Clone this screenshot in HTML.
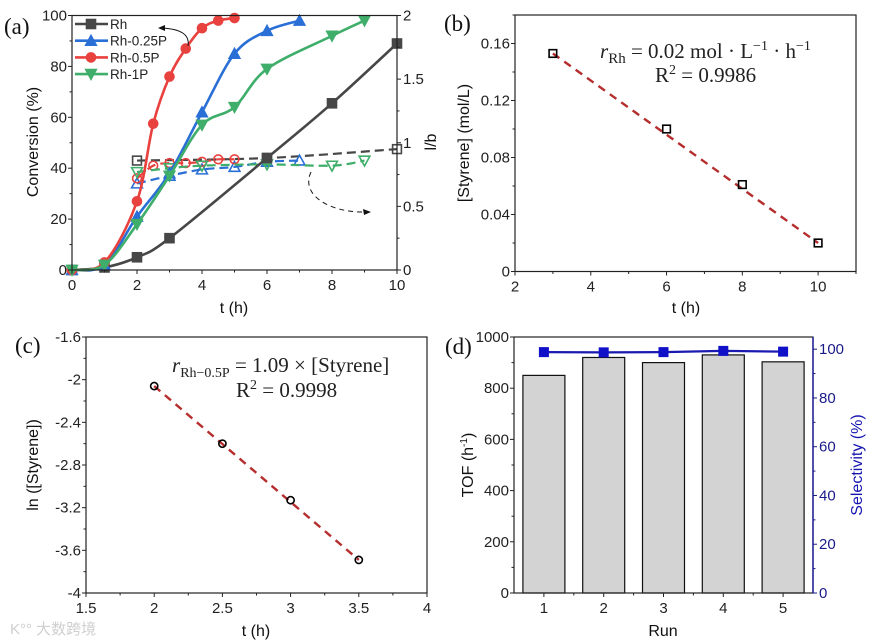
<!DOCTYPE html>
<html><head><meta charset="utf-8"><style>
body{margin:0;background:#fff;}
svg{display:block;font-family:"Liberation Sans",sans-serif;}
.s{font-family:"Liberation Serif",serif;}
</style></head><body>
<svg id="c" width="880" height="644" viewBox="0 0 880 644"></svg>
<script>
// ---- Panel (a) data ----
const aRhT=[0,1,2,3,6,8,10], aRhC=[0,1,5,12.5,44,65.5,89];
const a25T=[0,1,2,3,4,5,6,7], a25C=[0,2,21,38,62,85,94,98];
const a05T=[0,1,2,2.5,3,3.5,4,4.5,5], a05C=[0,3,27,57.5,76,87,95,98,99];
const a1T=[0,1,2,3,4,5,6,8,9], a1C=[0,2,18,37,57,64,79,92,98];
const lbRhT=[2,6,10], lbRh=[0.86,0.88,0.95];
const lb25T=[2,3,4,5,6,7], lb25=[0.68,0.74,0.79,0.81,0.85,0.86];
const lb05T=[2,2.5,3,3.5,4,4.5,5], lb05=[0.72,0.82,0.84,0.84,0.85,0.87,0.87];
const lb1T=[2,3,4,6,8,9], lb1=[0.77,0.8,0.82,0.83,0.82,0.86];
// ---- Panel (b) ----
const bT=[3,6,8,10], bS=[0.153,0.1,0.061,0.02];
// ---- Panel (c) ----
const cT=[2,2.5,3,3.5], cL=[-2.06,-2.6,-3.13,-3.69];
// ---- Panel (d) ----
const dRun=[1,2,3,4,5], dTOF=[850,920,900,930,903], dSel=[98.8,98.7,98.8,99.3,99];

const svg=document.getElementById('c');const NS='http://www.w3.org/2000/svg';
function E(tag,at,txt,parent){const e=document.createElementNS(NS,tag);for(const k in at)e.setAttribute(k,at[k]);if(txt!=null)e.textContent=txt;(parent||svg).appendChild(e);return e;}
function lin(d0,d1,r0,r1){return v=>r0+(v-d0)*(r1-r0)/(d1-d0);}
function smooth(pts){let d='M'+pts[0][0]+','+pts[0][1];for(let i=0;i<pts.length-1;i++){const p0=pts[Math.max(0,i-1)],p1=pts[i],p2=pts[i+1],p3=pts[Math.min(pts.length-1,i+2)];d+=' C'+(p1[0]+(p2[0]-p0[0])/6)+','+(p1[1]+(p2[1]-p0[1])/6)+' '+(p2[0]-(p3[0]-p1[0])/6)+','+(p2[1]-(p3[1]-p1[1])/6)+' '+p2[0]+','+p2[1];}return d;}
function marker(g,type,x,y,col,fill,r){r=r||4.5;let e;
 if(type=='sq')e=E('rect',{x:x-r,y:y-r,width:2*r,height:2*r},null,g);
 else if(type=='ci')e=E('circle',{cx:x,cy:y,r:r},null,g);
 else if(type=='up')e=E('polygon',{points:`${x},${y-r-1} ${x-r-1},${y+r} ${x+r+1},${y+r}`},null,g);
 else e=E('polygon',{points:`${x},${y+r+1} ${x-r-1},${y-r} ${x+r+1},${y-r}`},null,g);
 e.setAttribute('fill',fill?col:'none');e.setAttribute('stroke',col);e.setAttribute('stroke-width',fill?1:1.6);return e;}
function axisBox(g,x0,y0,x1,y1){E('rect',{x:x0,y:y0,width:x1-x0,height:y1-y0,fill:'none',stroke:'#222','stroke-width':1.2},null,g);}
function xTicks(g,sx,vals,y,labels,minor){vals.forEach((v,i)=>{E('line',{x1:sx(v),x2:sx(v),y1:y,y2:y+4,stroke:'#222'},null,g);E('text',{x:sx(v),y:y+20,'text-anchor':'middle','font-size':15,fill:'#222'},labels[i],g);});
 (minor||[]).forEach(v=>E('line',{x1:sx(v),x2:sx(v),y1:y,y2:y+2.5,stroke:'#222'},null,g));}
function yTicks(g,sy,vals,x,labels,minor,right,col){col=col||'#222';vals.forEach((v,i)=>{E('line',{x1:x,x2:right?x+4:x-4,y1:sy(v),y2:sy(v),stroke:col},null,g);E('text',{x:right?x+6:x-5,y:sy(v)+5,'text-anchor':right?'start':'end','font-size':15,fill:col},labels[i],g);});
 (minor||[]).forEach(v=>E('line',{x1:x,x2:right?x+2.5:x-2.5,y1:sy(v),y2:sy(v),stroke:col},null,g));}
function vtitle(g,x,y,t,col){const e=E('text',{x:x,y:y,transform:`rotate(-90 ${x} ${y})`,'text-anchor':'middle','font-size':16,fill:col||'#111'},null,g);e.innerHTML=t;return e;}

// ===== Panel A =====
(function(){const g=E('g',{});
 const sx=lin(0,10,72,397),sy=lin(0,100,270,15.5),sr=lin(0,2,270,15.5);
 const series=[[aRhT,aRhC,'#474747','sq','Rh',lbRhT,lbRh],[a25T,a25C,'#2a6fd6','up','Rh-0.25P',lb25T,lb25],[a05T,a05C,'#e8413e','ci','Rh-0.5P',lb05T,lb05],[a1T,a1C,'#3fae6a','dn','Rh-1P',lb1T,lb1]];
 series.forEach(s=>{const sg=E('g',{},null,g);
  E('path',{d:smooth(s[5].map((t,i)=>[sx(t),sr(s[6][i])])),fill:'none',stroke:s[2],'stroke-width':2.2,'stroke-dasharray':'9,5'},null,sg);
  s[5].forEach((t,i)=>marker(sg,s[3],sx(t),sr(s[6][i]),s[2],false,4.4));});
 series.forEach(s=>{const sg=E('g',{},null,g);
  E('path',{d:smooth(s[0].map((t,i)=>[sx(t),sy(s[1][i])])),fill:'none',stroke:s[2],'stroke-width':2.6},null,sg);
  s[0].forEach((t,i)=>marker(sg,s[3],sx(t),sy(s[1][i]),s[2],true,4.8));});
 axisBox(g,72,15.5,397,270);
 xTicks(g,sx,[0,2,4,6,8,10],270,['0','2','4','6','8','10'],[1,3,5,7,9]);
 yTicks(g,sy,[0,20,40,60,80,100],72,['0','20','40','60','80','100'],[10,30,50,70,90]);
 yTicks(g,sr,[0,0.5,1,1.5,2],397,['0','0.5','1','1.5','2'],[0.25,0.75,1.25,1.75],true);
 const lg=E('g',{},null,g);
 series.forEach((s,i)=>{const y=24+i*16.7;E('line',{x1:75,x2:108,y1:y,y2:y,stroke:s[2],'stroke-width':2.6},null,lg);marker(lg,s[3],91,y,s[2],true,4.8);E('text',{x:110,y:y+5,'font-size':13.5,fill:'#222'},s[4],lg);});
 E('path',{d:'M188,46 C190,34 180,29 162,28',fill:'none',stroke:'#111','stroke-width':1},null,g);
 E('polygon',{points:'158,28 165,25 165,31',fill:'#111'},null,g);
 E('path',{d:'M311,172 C300,195 330,213 366,212',fill:'none',stroke:'#111','stroke-width':1,'stroke-dasharray':'5,4'},null,g);
 E('polygon',{points:'371,212 363,209 364,215',fill:'#111'},null,g);
 E('text',{x:234,y:313,'text-anchor':'middle','font-size':16,fill:'#111'},'t (h)',g);
 vtitle(g,38,142,'Conversion (%)');vtitle(g,436,142,'l/b');
 E('text',{x:4,y:34,'font-size':23,fill:'#111',class:'s'},'(a)',g);
})();

// ===== Panel B =====
(function(){const g=E('g',{});
 const sx=lin(2,11,515,856),sy=lin(0,0.18,271.5,15);
 axisBox(g,515,15,856,271.5);
 xTicks(g,sx,[2,4,6,8,10],271.5,['2','4','6','8','10'],[3,5,7,9,11]);
 yTicks(g,sy,[0,0.04,0.08,0.12,0.16],515,['0','0.04','0.08','0.12','0.16'],[0.02,0.06,0.1,0.14,0.18]);
 E('line',{x1:sx(bT[0]),y1:sy(bS[0]),x2:sx(bT[3]),y2:sy(bS[3]),stroke:'#b52d2d','stroke-width':2.4,'stroke-dasharray':'8,6'},null,g);
 bT.forEach((t,i)=>marker(g,'sq',sx(t),sy(bS[i]),'#000',false,3.8));
 const t1=E('text',{x:600,y:58,'font-size':21,fill:'#222',class:'s'},null,g);t1.innerHTML='<tspan font-style="italic">r</tspan><tspan font-size="15" dy="5">Rh</tspan><tspan dy="-5"> = 0.02 mol · L</tspan><tspan font-size="14" dy="-8">−1</tspan><tspan dy="8"> · h</tspan><tspan font-size="14" dy="-8">−1</tspan>';
 const t2=E('text',{x:655,y:82,'font-size':21,fill:'#222',class:'s'},null,g);t2.innerHTML='R<tspan font-size="14" dy="-8">2</tspan><tspan dy="8"> = 0.9986</tspan>';
 E('text',{x:686,y:313,'text-anchor':'middle','font-size':16,fill:'#111'},'t (h)',g);
 vtitle(g,469,143,'[Styrene] (mol/L)');
 E('text',{x:444,y:31,'font-size':23,fill:'#111',class:'s'},'(b)',g);
})();

// ===== Panel C =====
(function(){const g=E('g',{});
 const sx=lin(1.5,4,86,427),sy=lin(-4,-1.6,593,337);
 axisBox(g,86,337,427,593);
 xTicks(g,sx,[1.5,2,2.5,3,3.5,4],593,['1.5','2','2.5','3','3.5','4'],[1.75,2.25,2.75,3.25,3.75]);
 yTicks(g,sy,[-4,-3.6,-3.2,-2.8,-2.4,-2,-1.6],86,['-4','-3.6','-3.2','-2.8','-2.4','-2','-1.6'],[-3.8,-3.4,-3,-2.6,-2.2,-1.8]);
 E('line',{x1:sx(cT[0]),y1:sy(cL[0]),x2:sx(cT[3]),y2:sy(cL[3]),stroke:'#b52d2d','stroke-width':2.4,'stroke-dasharray':'8,6'},null,g);
 cT.forEach((t,i)=>marker(g,'ci',sx(t),sy(cL[i]),'#000',false,3.6));
 const t1=E('text',{x:172,y:372,'font-size':21,fill:'#222',class:'s'},null,g);t1.innerHTML='<tspan font-style="italic">r</tspan><tspan font-size="14" dy="5">Rh−0.5P</tspan><tspan dy="-5"> = 1.09 × [Styrene]</tspan>';
 const t2=E('text',{x:236,y:397,'font-size':21,fill:'#222',class:'s'},null,g);t2.innerHTML='R<tspan font-size="14" dy="-8">2</tspan><tspan dy="8"> = 0.9998</tspan>';
 E('text',{x:256,y:636,'text-anchor':'middle','font-size':16,fill:'#111'},'t (h)',g);
 vtitle(g,38,465,'ln ([Styrene])');
 E('text',{x:15,y:353,'font-size':23,fill:'#111',class:'s'},'(c)',g);
 const w=E('text',{x:10,y:634,'font-size':15,fill:'#cfcfcf','font-family':'"Liberation Sans","Noto Sans CJK SC",sans-serif'},'K°° 大数跨境',g);
})();

// ===== Panel D =====
(function(){const g=E('g',{});
 const sx=lin(0.5,5.5,514,813),sy=lin(0,1000,593,337),sr=lin(0,105,593,337);
 dRun.forEach((r,i)=>{const b=E('rect',{x:sx(r)-21,y:sy(dTOF[i]),width:42,height:593-sy(dTOF[i]),fill:'#d3d3d3',stroke:'#111','stroke-width':1.2},null,g);});
 E('path',{d:dRun.map((r,i)=>(i?'L':'M')+sx(r)+','+sr(dSel[i])).join(' '),fill:'none',stroke:'#1a1ab0','stroke-width':2.2},null,g);
 dRun.forEach((r,i)=>{const m=E('rect',{x:sx(r)-5,y:sr(dSel[i])-5,width:10,height:10,fill:'#1010c8'},null,g);});
 E('rect',{x:514,y:337,width:299,height:256,fill:'none',stroke:'#222','stroke-width':1.2},null,g);
 E('line',{x1:813,y1:337,x2:813,y2:593,stroke:'#1a1a9a','stroke-width':1.4},null,g);
 xTicks(g,sx,[1,2,3,4,5],593,['1','2','3','4','5'],[1.5,2.5,3.5,4.5]);
 yTicks(g,sy,[0,200,400,600,800,1000],514,['0','200','400','600','800','1000'],[100,300,500,700,900]);
 yTicks(g,sr,[0,20,40,60,80,100],813,['0','20','40','60','80','100'],[10,30,50,70,90],true,'#1a1a8a');
 E('text',{x:663,y:636,'text-anchor':'middle','font-size':16,fill:'#111'},'Run',g);
 vtitle(g,473,465,'TOF (h<tspan font-size="10" dy="-6">-1</tspan><tspan dy="6">)</tspan>');
 vtitle(g,862,465,'Selectivity (%)','#1515b0');
 E('text',{x:445,y:354,'font-size':23,fill:'#111',class:'s'},'(d)',g);
})();
</script>
</body></html>
